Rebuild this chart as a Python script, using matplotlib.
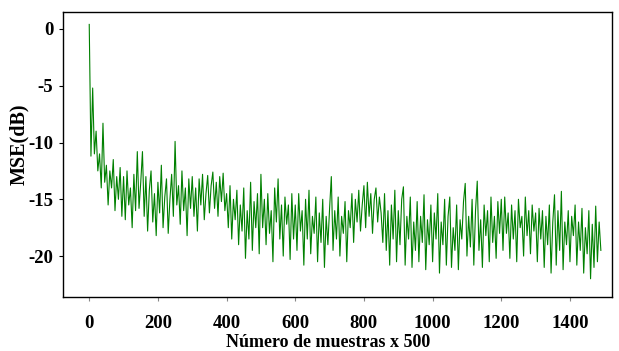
import numpy as np
import matplotlib
matplotlib.use('Agg')
import matplotlib.pyplot as plt

sample_step = 5
mse_db = [
    0.4, -11.2, -5.2, -11.0, -9.0, -12.5, -11.0, -14.0, -8.3, -13.5,
    -12.0, -15.5, -12.5, -14.0, -11.5, -16.0, -13.0, -15.0, -12.2, -16.5,
    -13.0, -16.8, -12.5, -15.5, -14.0, -17.5, -12.8, -16.0, -10.8, -15.8,
    -13.5, -10.8, -16.5, -13.0, -17.8, -14.2, -12.5, -17.0, -14.5, -18.2,
    -13.5, -16.2, -12.0, -17.5, -14.8, -13.2, -18.0, -15.0, -12.8, -16.5,
    -9.9, -15.5, -13.8, -17.2, -12.5, -16.0, -14.0, -18.2, -13.2, -15.8,
    -13.0, -16.5, -14.0, -17.8, -13.2, -15.5, -12.8, -16.8, -14.5, -12.9,
    -16.2, -13.8, -12.6, -15.8, -13.5, -16.5, -13.0, -15.2, -12.7, -16.0,
    -14.5, -17.5, -13.8, -18.5, -15.0, -16.8, -14.2, -19.0, -15.5, -17.8,
    -14.0, -20.2, -16.0, -18.5, -13.5, -19.5, -15.2, -17.5, -14.5, -19.8,
    -12.8, -17.5, -15.0, -19.0, -14.5, -18.0, -16.0, -20.5, -14.0, -17.0,
    -13.2, -18.5, -15.5, -20.0, -14.8, -17.2, -15.5, -20.3, -14.5, -18.5,
    -15.5, -19.5, -14.5, -17.8, -16.0, -20.8, -15.0, -18.5, -14.2, -19.8,
    -16.5, -18.0, -14.8, -20.5, -16.2, -18.8, -15.0, -21.0, -16.5, -19.0,
    -15.8, -13.0, -19.5, -16.0, -18.5, -14.8, -20.0, -16.5, -18.0, -15.2,
    -20.5, -16.0, -17.5, -14.5, -18.8, -15.0, -17.0, -14.2, -17.8, -15.5,
    -13.8, -17.5, -13.5, -16.5, -14.5, -18.0, -15.0, -14.0, -17.0, -14.8,
    -16.2, -18.8, -14.5, -19.5, -16.0, -20.8, -15.5, -18.5, -14.2, -20.5,
    -16.0, -19.0, -15.0, -13.9, -20.8, -16.5, -18.5, -14.8, -21.0, -17.0,
    -19.5, -15.2, -20.5, -16.5, -18.8, -14.6, -21.2, -16.8, -19.0, -15.5,
    -20.5, -16.2, -18.5, -14.5, -21.5, -17.0, -19.0, -15.0, -20.8, -16.5,
    -14.8, -21.0, -17.5, -19.5, -15.5, -21.2, -16.8, -18.5, -15.2, -13.6,
    -20.0, -16.5, -19.2, -15.0, -20.8, -16.0, -13.4, -19.5, -16.8, -21.0,
    -15.5, -18.2, -16.0, -20.5, -14.8, -18.8, -16.5, -20.2, -15.2, -18.0,
    -15.0, -19.5, -14.8, -18.0, -16.2, -20.2, -15.5, -18.5, -16.0, -20.5,
    -15.0, -17.5, -16.5, -20.0, -14.8, -18.2, -16.0, -19.8, -15.5, -17.8,
    -16.2, -20.5, -15.8, -18.5, -16.0, -21.0, -16.5, -19.0, -15.5, -21.5,
    -17.0, -14.6, -20.8, -16.0, -19.5, -14.3, -21.2, -17.0, -19.0, -16.0,
    -20.5, -16.5, -18.2, -15.5, -20.8, -17.0, -19.5, -15.8, -21.5, -17.5,
    -19.8, -16.0, -22.0, -17.2, -21.0, -15.6, -20.5, -17.0, -19.5,
]
x_ticks = [0, 200, 400, 600, 800, 1000, 1200, 1400]
y_ticks = [0, -5, -10, -15, -20]

muestras = np.arange(len(mse_db)) * sample_step

fig = plt.figure(figsize=(6.19, 3.51), dpi=100)
ax = fig.add_axes([0.102, 0.154, 0.887, 0.812])

ax.plot(muestras, mse_db, color='#008000', lw=0.8)

ax.set_xlim(-76, 1523)
ax.set_ylim(-23.6, 1.5)
ax.set_xticks(x_ticks)
ax.set_yticks(y_ticks)

fuente = dict(family='Liberation Serif', weight='bold', size=13.5)
ax.set_xticklabels([str(v) for v in x_ticks], **fuente)
ax.set_yticklabels([str(v) for v in y_ticks], **fuente)
ax.tick_params(axis='x', direction='out', length=3, width=0.8, pad=10, color='#888888')
ax.tick_params(axis='y', direction='out', length=3, width=0.8, pad=4)

ax.set_xlabel('Número de muestras x 500', family='Liberation Serif', weight='bold', size=13)
ax.set_ylabel('MSE(dB)', family='Liberation Serif', weight='bold', size=14.5)
ax.xaxis.set_label_coords(0.483, -0.13)
ax.yaxis.set_label_coords(-0.061, 0.537)

for s in ax.spines.values():
    s.set_linewidth(1.0)
    s.set_color('black')

fig.savefig('out.png', dpi=100)
